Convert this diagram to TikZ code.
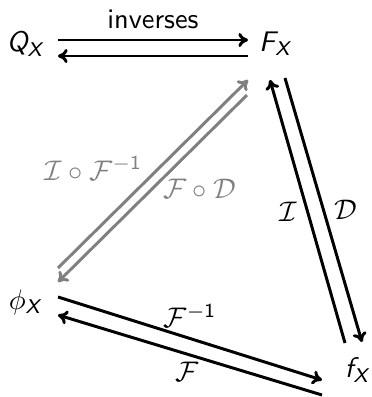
\documentclass[tikz,border=0pt]{standalone}
\usepackage{amsmath,amssymb}
\usepackage{xcolor}
\usepackage{tikz}
\usetikzlibrary{calc,arrows.meta}
\newcommand{\sv}[1]{\textsf{\slshape #1}}
\tikzset{
  every node/.style={font=\sffamily},
  obj/.style={inner sep=0pt},
  arr/.style={-{Computer Modern Rightarrow[length=3.4pt,width=5pt]},line width=1.05pt},
  garr/.style={arr,draw=gray},
  lbl/.style={text=black},
  glbl/.style={text=gray}
}

\begin{document}
\begin{tikzpicture}[x=0.3528pt,y=-0.3528pt]
\useasboundingbox (0,0) rectangle (372,397);
\node[obj] (Q) at (25,44) {$\sv{Q}_{\sv{X}}$};
\node[obj] (F) at (275,44) {$\sv{F}_{\sv{X}}$};
\node[obj] (phi) at (25,302) {$\phi_{\sv{X}}$};
\node[obj] (f) at (357,370) {$\sv{f}_{\sv{X}}$};
% top pair
\draw[arr] ([shift={(33,-4)}]Q.center) -- ([shift={(-27,-4)}]F.center)
  node[lbl,midway,above] {inverses};
\draw[arr] ([shift={(-27,12)}]F.center) -- ([shift={(33,12)}]Q.center);
% right pair
\draw[arr] ([shift={(-12,-27)}]f.center) -- ([shift={(-5,36)}]F.center)
  node[lbl,midway,left] {$\mathcal{I}$};
\draw[arr] ([shift={(10,34)}]F.center) -- ([shift={(5,-28)}]f.center)
  node[lbl,midway,right] {$\mathcal{D}$};
% diagonal pair, gray
\draw[garr] ([shift={(33,-34)}]phi.center) -- ([shift={(-27,36)}]F.center)
  node[glbl,midway,left,yshift=2pt] {$\mathcal{I}\circ\mathcal{F}^{-\textsf{1}}$};
\draw[garr] ([shift={(-28,51)}]F.center) -- ([shift={(33,-20)}]phi.center)
  node[glbl,midway,right] {$\mathcal{F}\circ\mathcal{D}$};
% bottom pair
\draw[arr] ([shift={(33,-5)}]phi.center) -- ([shift={(-35,10)}]f.center)
  node[lbl,midway,above] {$\mathcal{F}^{-\textsf{1}}$};
\draw[arr] ([shift={(-35,25)}]f.center) -- ([shift={(33,13)}]phi.center)
  node[lbl,midway,below,yshift=1.5pt,xshift=-1pt] {$\mathcal{F}$};
\end{tikzpicture}
\end{document}
